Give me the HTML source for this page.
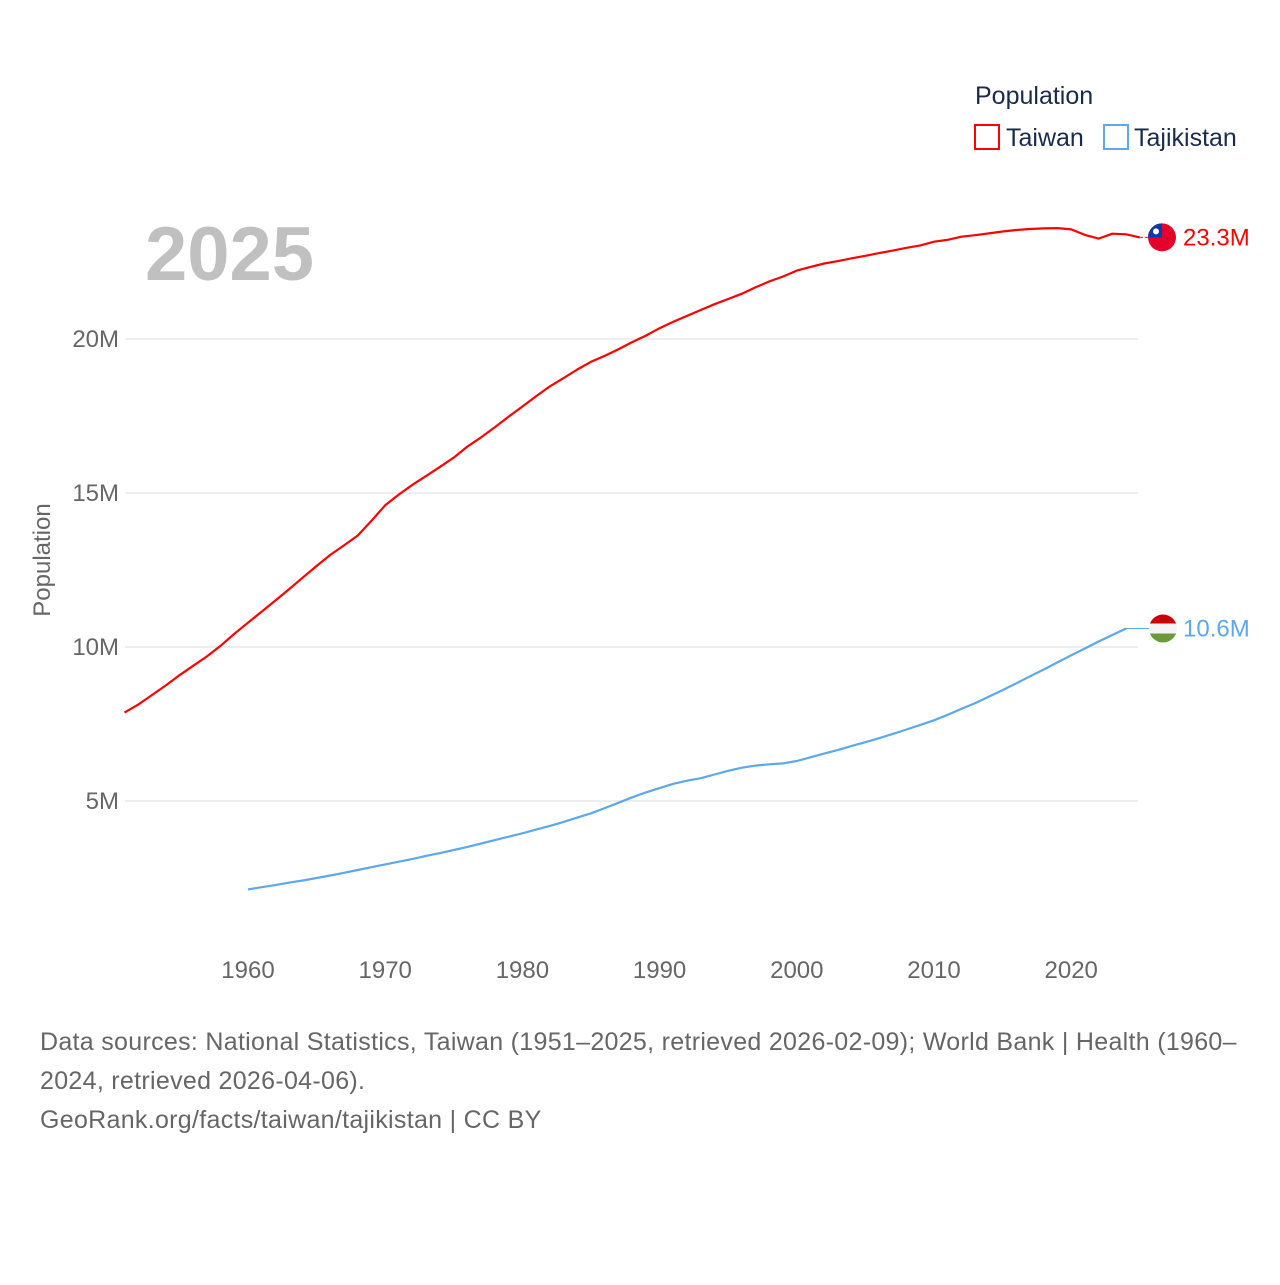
<!DOCTYPE html>
<html><head><meta charset="utf-8"><style>
body{margin:0;background:#fff;width:1280px;height:1280px;overflow:hidden;font-family:"Liberation Sans",sans-serif}
</style></head><body>
<svg id="chart" width="1280" height="1280" xmlns="http://www.w3.org/2000/svg" font-family="Liberation Sans, sans-serif">
<text x="975" y="104" font-size="25" fill="#1a2a4a">Population</text>
<g><rect x="975" y="125" width="24" height="24" fill="none" stroke="#ff0000" stroke-width="2"/><text x="1006" y="146" font-size="25" fill="#1a2a4a">Taiwan</text></g>
<g><rect x="1104" y="125" width="24" height="24" fill="none" stroke="#5ca8ea" stroke-width="2"/><text x="1134" y="146" font-size="25" fill="#1a2a4a">Tajikistan</text></g>
<text x="145" y="280" font-size="76" font-weight="bold" fill="#c0c0c0">2025</text>
<text transform="translate(50,560) rotate(-90)" text-anchor="middle" font-size="24" fill="#666">Population</text>
<g id="grid"></g><g id="xt"></g><g id="series"></g>
<text font-size="25" fill="#666" letter-spacing="0.3"><tspan x="40" y="1050">Data sources: National Statistics, Taiwan (1951–2025, retrieved 2026-02-09); World Bank | Health (1960–</tspan><tspan x="40" y="1089">2024, retrieved 2026-04-06).</tspan><tspan x="40" y="1128">GeoRank.org/facts/taiwan/tajikistan | CC BY</tspan></text>
</svg>
<script>
const yTicks=[5,10,15,20];
const yTickLabels=["5M","10M","15M","20M"];
const xTicks=[1960,1970,1980,1990,2000,2010,2020];
const twStart=1951;
const taiwan=[7.87,8.13,8.44,8.75,9.08,9.39,9.69,10.04,10.43,10.79,11.15,11.51,11.88,12.26,12.63,12.99,13.30,13.62,14.1,14.6,14.95,15.27,15.56,15.85,16.15,16.51,16.81,17.14,17.48,17.81,18.14,18.46,18.73,19.01,19.26,19.45,19.67,19.90,20.11,20.35,20.56,20.75,20.94,21.13,21.30,21.47,21.68,21.87,22.03,22.22,22.34,22.45,22.53,22.62,22.70,22.79,22.87,22.96,23.04,23.16,23.22,23.32,23.37,23.43,23.49,23.54,23.57,23.59,23.60,23.56,23.38,23.26,23.42,23.40,23.30];
const tjStart=1960;
const tajikistan=[2.13,2.2,2.27,2.35,2.42,2.5,2.58,2.67,2.76,2.85,2.94,3.03,3.12,3.22,3.31,3.41,3.51,3.62,3.73,3.84,3.95,4.07,4.19,4.32,4.46,4.6,4.77,4.94,5.12,5.28,5.42,5.56,5.66,5.74,5.86,5.98,6.08,6.15,6.19,6.22,6.3,6.42,6.54,6.66,6.79,6.91,7.04,7.18,7.32,7.47,7.62,7.8,7.99,8.18,8.39,8.6,8.82,9.05,9.27,9.5,9.73,9.95,10.18,10.39,10.6];
const X=yr=>248+(yr-1960)*13.72;
const Y=v=>955-v*30.8;
const NS="http://www.w3.org/2000/svg";
function mk(t,a,p){const e=document.createElementNS(NS,t);for(const k in a)e.setAttribute(k,a[k]);p.appendChild(e);return e;}
const grid=document.getElementById('grid');
yTicks.forEach((v,i)=>{
 const l=mk('line',{x1:125,x2:1138,y1:Y(v),y2:Y(v),stroke:'#e8e8e8','stroke-width':1.5},grid);
 
 
 const t=mk('text',{x:119,y:Y(v)+8,'text-anchor':'end','font-size':24,fill:'#666'},grid);t.textContent=yTickLabels[i];
 
 
});
const xt=document.getElementById('xt');
xTicks.forEach(v=>{const t=mk('text',{x:X(v),y:978,'text-anchor':'middle','font-size':24,fill:'#666'},xt);t.textContent=v;
 
 });
const s=document.getElementById('series');
function line(arr,start,col,name){
 const d=arr.map((v,i)=>(i?'L':'M')+X(start+i).toFixed(1)+','+Y(v).toFixed(1)).join('');
 const p=mk('path',{d:d,fill:'none',stroke:col,'stroke-width':2.2,'stroke-linejoin':'round'},s);
 
 
}
line(taiwan,twStart,'#ff0000','taiwan-line');
line(tajikistan,tjStart,'#5ca8ea','tajikistan-line');
const tx=X(twStart+taiwan.length-1),ty=Y(taiwan[taiwan.length-1]);
mk('line',{x1:tx,y1:ty,x2:1150,y2:ty,stroke:'#ff0000','stroke-dasharray':'3,2'},s);
const f1=mk('g',{},s);


mk('circle',{cx:1162,cy:ty,r:14,fill:'#e4002b'},f1);
mk('path',{d:`M1148,${ty} A14,14 0 0 1 1162,${ty-14} L1162,${ty} Z`,fill:'#0b3aa8'},f1);
mk('circle',{cx:1156,cy:ty-6,r:3,fill:'#fff'},f1);
const l1=mk('text',{x:1183,y:ty+8,'font-size':24,fill:'#ff0000'},s);l1.textContent=taiwan[taiwan.length-1].toFixed(1)+'M';


const jx=X(tjStart+tajikistan.length-1),jy=Y(tajikistan[tajikistan.length-1]);
mk('line',{x1:jx,y1:jy,x2:1150,y2:jy,stroke:'#5ca8ea'},s);
const f2=mk('g',{},s);


mk('clipPath',{id:'cp'},f2);
mk('circle',{cx:1163,cy:jy,r:14},document.getElementById('cp'));
mk('rect',{x:1149,y:jy-14,width:28,height:9,fill:'#cc0000','clip-path':'url(#cp)'},f2);
mk('rect',{x:1149,y:jy-5,width:28,height:10,fill:'#f4f4f4','clip-path':'url(#cp)'},f2);
mk('rect',{x:1149,y:jy+5,width:28,height:9,fill:'#6a9a3a','clip-path':'url(#cp)'},f2);
const l2=mk('text',{x:1183,y:jy+8,'font-size':24,fill:'#5ca8ea'},s);l2.textContent=tajikistan[tajikistan.length-1].toFixed(1)+'M';


</script>
</body></html>
